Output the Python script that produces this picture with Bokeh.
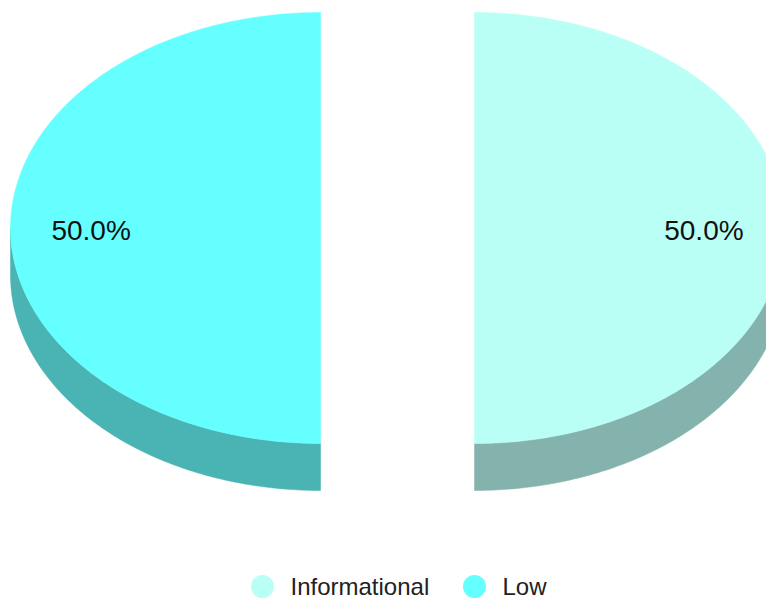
import numpy as np
from bokeh.plotting import figure
from bokeh.models import Range1d
from bokeh.embed import file_html
from bokeh.resources import INLINE
from bokeh.core.properties import value

# ---- data ----
categories = ["Informational", "Low"]
values = [1, 1]
top_colors = ["#b9fff5", "#66ffff"]
side_colors = ["#84b3ad", "#4ab3b3"]

# ---- geometry (screen pixel space) ----
CX, CY = 397, 227.5
RX, RY = 310, 215.5
DEPTH = 47
EXPLODE = 77
LABEL_R = 0.74

p = figure(width=766, height=602, output_backend="svg", toolbar_location=None,
           x_range=Range1d(0, 766), y_range=Range1d(602, 0),
           x_axis_type=None, y_axis_type=None, min_border=0)
p.grid.visible = False
p.outline_line_color = None
p.background_fill_color = "white"
p.border_fill_color = "white"

total = float(sum(values))
start = 90.0
slices = []
for cat, v, tc, sc in zip(categories, values, top_colors, side_colors):
    sweep = v / total * 360.0
    a0, a1 = start, start - sweep
    mid = np.radians((a0 + a1) / 2)
    cx = CX + EXPLODE * np.cos(mid)
    cy = CY - EXPLODE * np.sin(mid) * RY / RX
    slices.append((cat, v, a0, a1, cx, cy, tc, sc, mid))
    start = a1

# sides first
for cat, v, a0, a1, cx, cy, tc, sc, mid in slices:
    lo, hi = min(a0, a1), max(a0, a1)
    segs = []
    for k in range(-2, 2):
        s0, s1 = -180 + 360 * k, 0 + 360 * k
        a, b = max(lo, s0), min(hi, s1)
        if a < b:
            segs.append((a, b))
    for a, b in segs:
        th = np.radians(np.linspace(a, b, 120))
        xs = cx + RX * np.cos(th)
        ys = cy - RY * np.sin(th)
        px = np.concatenate([xs, xs[::-1]])
        py = np.concatenate([ys, ys[::-1] + DEPTH])
        p.patch(px, py, fill_color=sc, line_color=sc, line_width=0.5)

# tops
for cat, v, a0, a1, cx, cy, tc, sc, mid in slices:
    th = np.radians(np.linspace(a0, a1, 240))
    xs = np.concatenate([[cx], cx + RX * np.cos(th), [cx]])
    ys = np.concatenate([[cy], cy - RY * np.sin(th), [cy]])
    p.patch(xs, ys, fill_color=tc, line_color=tc, line_width=0.5)

# labels
lx, ly, lt = [], [], []
for cat, v, a0, a1, cx, cy, tc, sc, mid in slices:
    lx.append(cx + LABEL_R * RX * np.cos(mid))
    ly.append(cy - LABEL_R * RY * np.sin(mid) + 2)
    lt.append("%.1f%%" % (v / total * 100))
p.text(lx, ly, text=lt, text_align="center", text_baseline="middle",
       text_font=value("Liberation Sans"), text_font_size="28px", text_color="#111111")

# legend
leg_x = [262, 474]
leg_y = 586
p.scatter(leg_x, [leg_y] * 2, size=23, fill_color=top_colors, line_color=None)
p.text([x + 28 for x in leg_x], [leg_y] * 2, text=categories, text_align="left",
       text_baseline="middle", text_font=value("Liberation Sans"),
       text_font_size="24px", text_color="#222222")

open("out.html", "w").write(file_html(p, INLINE))
